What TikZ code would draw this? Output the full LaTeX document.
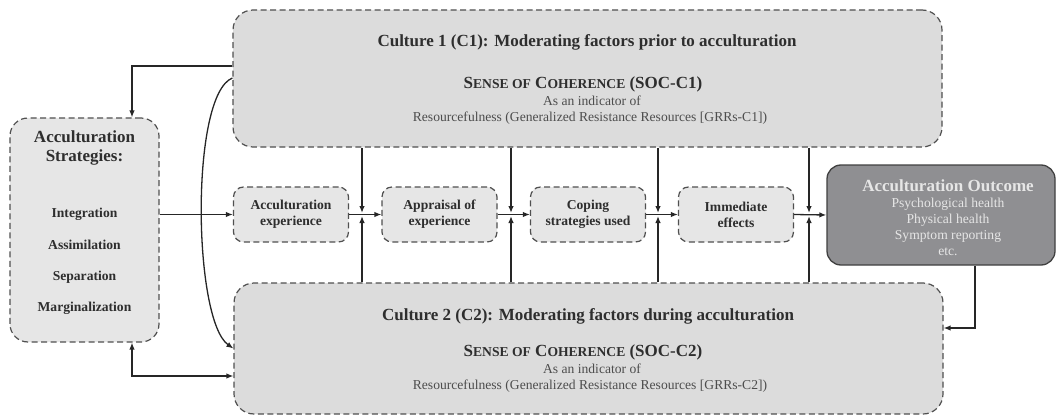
\documentclass[tikz,border=0pt]{standalone}
\usepackage{fontspec}
\setmainfont{Liberation Serif}
\usetikzlibrary{arrows.meta}
\definecolor{txt}{HTML}{2E2E2E}
\definecolor{bord}{HTML}{505050}
\definecolor{bigfill}{HTML}{DCDCDC}
\definecolor{smallfill}{HTML}{E6E6E6}
\definecolor{outfill}{HTML}{8F8F92}
\definecolor{outtxt}{HTML}{E6E6E6}
\newcommand{\fsz}[1]{\fontsize{#1}{16}\selectfont}
\newcommand{\fakesc}[2]{#1{\fontsize{13.6}{14}\selectfont #2}}
\begin{document}
\begin{tikzpicture}[x=1pt,y=-1pt,
  dbox/.style={draw=bord, line width=1.2pt, dash pattern=on 6pt off 3.5pt, inner sep=0pt},
  bigbox/.style={dbox, fill=bigfill, rounded corners=20pt, minimum width=709pt, minimum height=137pt},
  smallbox/.style={dbox, fill=smallfill, rounded corners=10pt, minimum width=115pt, minimum height=55pt,
     align=center, font=\fsz{13.6}\bfseries, text=txt},
  lbl/.style={inner sep=0pt, text=txt, align=center},
  arr/.style={draw=black!85, line width=1.3pt, -{Latex[length=7pt,width=5.5pt]}},
  arrb/.style={draw=black!85, line width=1.3pt, {Latex[length=7pt,width=5.5pt]}-{Latex[length=7pt,width=5.5pt]}}
]
\useasboundingbox (0,0) rectangle (1057,417);

% big boxes
\node[bigbox] (c1) at (587.5,78.5) {};
\node[bigbox, minimum height=131pt] (c2) at (588.5,348.5) {};

\node[lbl, font=\fsz{17}\bfseries] (c1t) at (587,42) {Culture 1 (C1): Moderating factors prior to acculturation};
\node[lbl, font=\fsz{17}\bfseries] (c1s) at (583,84) {\fakesc{S}{ENSE OF} \fakesc{C}{OHERENCE} (SOC-C1)};
\node[lbl, font=\fsz{13.6}, text=txt!85] (c1i) at (592,101) {As an indicator of};
\node[lbl, font=\fsz{13.6}, text=txt!85] (c1r) at (590,118) {Resourcefulness (Generalized Resistance Resources [GRRs-C1])};

\node[lbl, font=\fsz{17}\bfseries] (c2t) at (588,316) {Culture 2 (C2): Moderating factors during acculturation};
\node[lbl, font=\fsz{17}\bfseries] (c2s) at (583,352) {\fakesc{S}{ENSE OF} \fakesc{C}{OHERENCE} (SOC-C2)};
\node[lbl, font=\fsz{13.6}, text=txt!85] (c2i) at (592,369) {As an indicator of};
\node[lbl, font=\fsz{13.6}, text=txt!85] (c2r) at (590,386) {Resourcefulness (Generalized Resistance Resources [GRRs-C2])};

% strategies
\node[dbox, fill=smallfill, rounded corners=18pt, minimum width=149pt, minimum height=224pt] (strat) at (84.5,230) {};
\node[lbl, font=\fontsize{17}{19}\selectfont\bfseries] (st1) at (84.5,148) {Acculturation\\Strategies:};
\node[lbl, font=\fsz{13.6}\bfseries] (st2) at (84.5,214) {Integration};
\node[lbl, font=\fsz{13.6}\bfseries] (st3) at (84.5,245) {Assimilation};
\node[lbl, font=\fsz{13.6}\bfseries] (st4) at (84.5,277) {Separation};
\node[lbl, font=\fsz{13.6}\bfseries] (st5) at (84.5,308) {Marginalization};

% small boxes
\node[smallbox] (acc) at (291,214.5) {Acculturation\\experience};
\node[smallbox] (app) at (439.5,214.5) {Appraisal of\\experience};
\node[smallbox] (cop) at (588,214.5) {Coping\\strategies used};
\node[smallbox] (imm) at (736,214.5) {Immediate\\effects};

% outcome
\node[draw=black!75, line width=1.3pt, fill=outfill, rounded corners=14pt, minimum width=228pt, minimum height=100pt, inner sep=0pt] (out) at (941,215) {};
\node[lbl, text=outtxt, font=\fsz{17}\bfseries] (ot) at (948,186) {Acculturation Outcome};
\node[lbl, text=outtxt, font=\fsz{13.6}, align=center] (oi) at (948,226.5) {Psychological health\\Physical health\\Symptom reporting\\etc.};

% junction coordinates
\coordinate (j1) at (362,214.5);
\coordinate (j2) at (511,214.5);
\coordinate (j3) at (658,214.5);
\coordinate (j4) at (809,214.5);

% flow arrows
\draw[arr] (strat.east |- acc.west) -- (acc.west);
\draw[arr] (acc.east) -- (app.west);
\draw[arr] (app.east) -- (cop.west);
\draw[arr] (cop.east) -- (imm.west);
\draw[arr] (imm.east) -- (out.west);

% vertical arrows
\foreach \j in {j1,j2,j3,j4}{
  \draw[arr] (\j |- c1.south) -- ([yshift=1.5pt]\j);
  \draw[arr] (\j |- c2.north) -- ([yshift=-1.5pt]\j);
}

% left connectors
\draw[arr] ([yshift=12.5pt]c1.west) -| ([xshift=47.5pt]strat.north);
\draw[arr] ([yshift=0.5pt]c1.west) .. controls (190,95) and (193,320) .. (c2.west);
\draw[arrb] ([xshift=47.5pt]strat.south) |- ([yshift=-27.5pt]c2.west);

% outcome to C2
\draw[arr] ([xshift=34pt]out.south) |- ([yshift=20.5pt]c2.east);
\end{tikzpicture}
\end{document}
